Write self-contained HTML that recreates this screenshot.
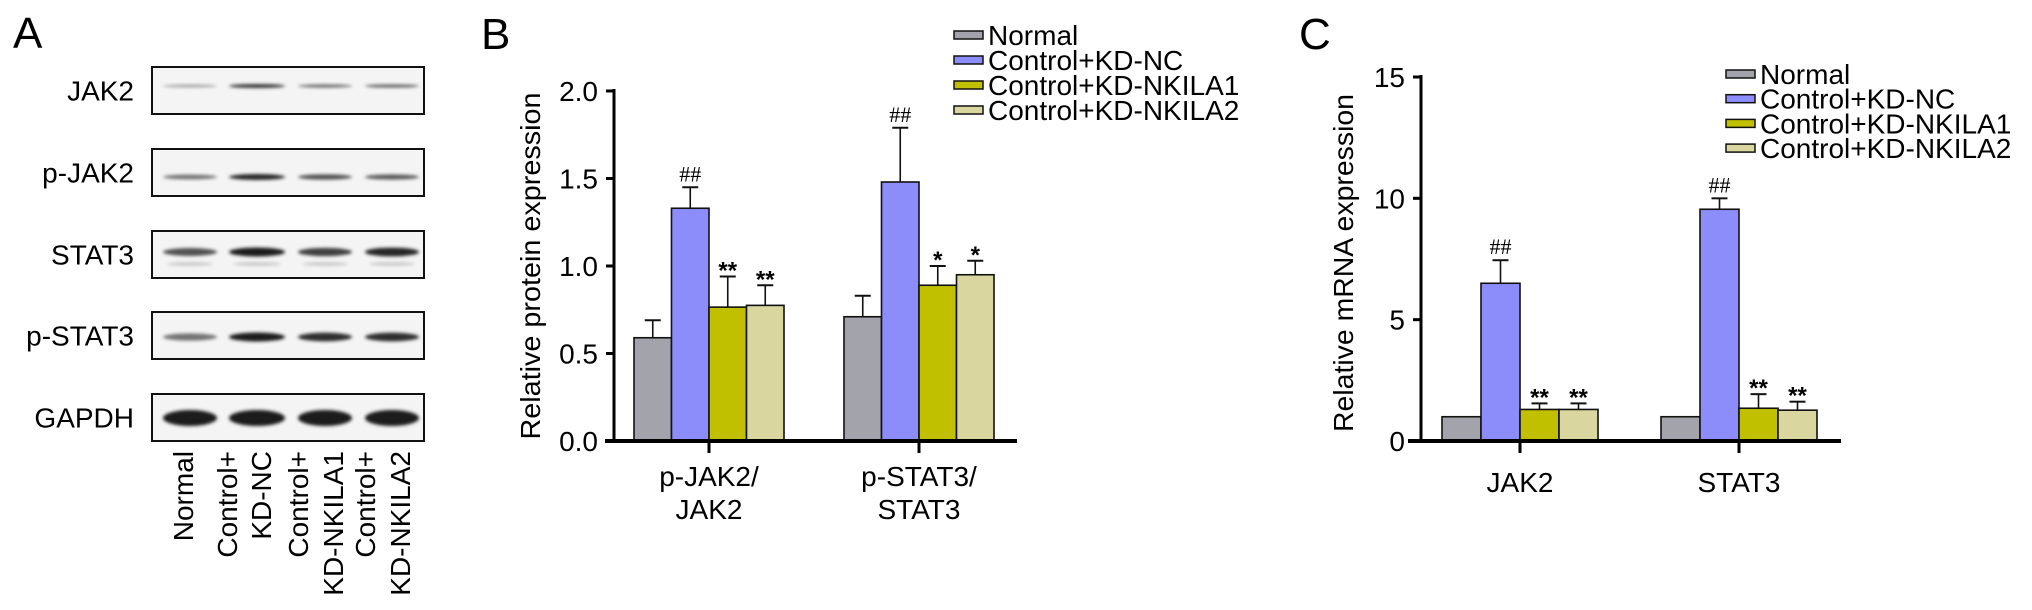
<!DOCTYPE html>
<html><head><meta charset="utf-8"><style>
html,body{margin:0;padding:0;background:#fff;}
svg{display:block;font-family:"Liberation Sans",Arial,sans-serif;}
</style></head><body>
<svg id="fig" width="2032" height="610" viewBox="0 0 2032 610">
<defs><filter id="blur" x="-20%" y="-100%" width="140%" height="300%"><feGaussianBlur stdDeviation="1.6"/></filter></defs>
<g id="panelA">
<text x="13" y="48" font-size="44">A</text>
</g>
<g id="panelB">
<text x="481" y="49" font-size="44">B</text>
</g>
<g id="panelC">
<text x="1299" y="49" font-size="44">C</text>
</g>
</svg>
<script>
const NS='http://www.w3.org/2000/svg';
const seriesNames=['Normal','Control+KD-NC','Control+KD-NKILA1','Control+KD-NKILA2'];
const seriesColors=['#a3a3ab','#8c8cfa','#c0c000','#d9d79f'];
const bCategories=[['p-JAK2/','JAK2'],['p-STAT3/','STAT3']];
const bMeans=[[0.59,1.33,0.765,0.775],[0.71,1.48,0.89,0.95]];
const bErrTop=[[0.69,1.45,0.94,0.89],[0.83,1.79,1.0,1.03]];
const bMarks=[['','##','**','**'],['','##','*','*']];
const bTicks=[0,0.5,1.0,1.5,2.0];
const bTickLabels=['0.0','0.5','1.0','1.5','2.0'];
const cCategories=[['JAK2'],['STAT3']];
const cMeans=[[1,6.5,1.3,1.3],[1,9.55,1.35,1.27]];
const cErrTop=[[1,7.45,1.55,1.55],[1,10.0,1.93,1.62]];
const cMarks=[['','##','**','**'],['','##','**','**']];
const cTicks=[0,5,10,15];
const cTickLabels=['0','5','10','15'];
const blotRows=['JAK2','p-JAK2','STAT3','p-STAT3','GAPDH'];
const blotIntensity=[[0.25,0.9,0.55,0.6],[0.5,0.95,0.7,0.65],[0.7,1,0.8,0.95],[0.5,1,0.9,0.9],[1,1,1,1]];
const laneLabels=[['Normal'],['Control+','KD-NC'],['Control+','KD-NKILA1'],['Control+','KD-NKILA2']];

function el(tag,attrs,parent,text){const e=document.createElementNS(NS,tag);for(const k in attrs)e.setAttribute(k,attrs[k]);if(text!==undefined)e.textContent=text;parent.appendChild(e);return e;}

// Panel A
(function(){
const g=document.getElementById('panelA');
const bx=152,bw=272,rowTop=[67,149,231,312,394],rh=47;
const bandY=[86,177,252,337,418],bandH=[4,6,9,9,16];
const laneC=[190,257,325,392],laneW=[54,56,54,54];
blotRows.forEach((name,r)=>{
 const rect=el('rect',{x:bx,y:rowTop[r],width:bw,height:rh,fill:'#f4f4f4',stroke:'#111','stroke-width':2},g);
 
 
 const lab=el('text',{x:134,y:rowTop[r]+rh/2+10,'font-size':28,'text-anchor':'end'},g,name);
 
 
 blotIntensity[r].forEach((v,l)=>{
  const c=Math.round(30+(1-v)*170);
  const b=el('ellipse',{cx:laneC[l],cy:bandY[r],rx:laneW[l]/2,ry:bandH[r]/2*(0.6+0.4*v),fill:'rgb('+c+','+c+','+c+')',filter:'url(#blur)'},g);
  
  
  if(name==='STAT3'){const b2=el('ellipse',{cx:laneC[l],cy:264,rx:laneW[l]/2-4,ry:2,fill:'#ccc',filter:'url(#blur)'},g);}
 });
});
const lx=[[193],[237,271],[308,343],[375,410]];
laneLabels.forEach((lines,i)=>{lines.forEach((t,j)=>{
 const x=lx[i][j];
 const tx=el('text',{x:x,y:451,'font-size':28,'text-anchor':'end',transform:'rotate(-90 '+x+' 451)'},g,t);
 
 
});});
})();

function drawChart(gid,o){
 const g=document.getElementById(gid);
 const y=v=>o.y0-(v-o.vmin)/(o.vmax-o.vmin)*(o.y0-o.y1);
 const ax=el('line',{x1:o.ax,y1:o.y1-2,x2:o.ax,y2:o.y0,stroke:'#000','stroke-width':3},g);
 
 
 o.ticks.forEach((t,i)=>{
  el('line',{x1:o.ax-8,y1:y(t),x2:o.ax,y2:y(t),stroke:'#000','stroke-width':3},g);
  const tl=el('text',{x:o.ax-16,y:y(t)+10,'font-size':28,'text-anchor':'end'},g,o.tickLabels[i]);
  
  
 });
 const tt=el('text',{x:o.titleX,y:o.titleY,'font-size':28,'text-anchor':'middle',transform:'rotate(-90 '+o.titleX+' '+o.titleY+')',textLength:o.titleLen,lengthAdjust:'spacingAndGlyphs'},g,o.title);
 
 
 o.means.forEach((grp,gi)=>{
  const cx=o.centers[gi];
  grp.forEach((v,si)=>{
   const x=cx+(si-2)*o.bw;
   const r=el('rect',{x:x,y:y(v),width:o.bw,height:o.y0-y(v),fill:seriesColors[si],stroke:'#111','stroke-width':1.6},g);
   
   
   const et=o.err[gi][si];
   if(et>v+0.001){
    const bc=x+o.bw/2;
    el('line',{x1:bc,y1:y(v),x2:bc,y2:y(et),stroke:'#111','stroke-width':1.6},g);
    el('line',{x1:bc-8,y1:y(et),x2:bc+8,y2:y(et),stroke:'#111','stroke-width':2},g);
   }
   const m=o.marks[gi][si];
   if(m){
    const isHash=m[0]==='#';
    const mt=el('text',{x:x+o.bw/2,y:y(et)-(isHash?6:-2),'font-size':isHash?22:24,'font-weight':isHash?'normal':'bold','font-family':isHash?'Liberation Serif, serif':'Liberation Sans, sans-serif','text-anchor':'middle'},g,m);
    
    
   }
  });
  el('line',{x1:cx,y1:o.y0,x2:cx,y2:o.y0+12,stroke:'#000','stroke-width':3},g);
  o.cats[gi].forEach((t,li)=>{
   const ct=el('text',{x:cx,y:o.catY+li*33,'font-size':28,'text-anchor':'middle'},g,t);
   
   
  });
 });
 const base=el('line',{x1:o.bx0,y1:o.y0,x2:o.bx1,y2:o.y0,stroke:'#000','stroke-width':4},g);
 
 
 seriesNames.forEach((n,i)=>{
  const ly=o.legY+i*o.legDy;
  const sw=el('rect',{x:o.legX,y:ly-14,width:29,height:8,fill:seriesColors[i],stroke:'#111','stroke-width':1.5},g);
  
  
  const lt=el('text',{x:o.legX+34,y:ly,'font-size':28},g,n);
  
  
 });
}
drawChart('panelB',{vmin:0,vmax:2,y0:441,y1:91,ax:614,bx0:605,bx1:1017,ticks:bTicks,tickLabels:bTickLabels,
 means:bMeans,err:bErrTop,marks:bMarks,centers:[709,919],bw:37.5,cats:bCategories,catY:486,
 title:'Relative protein expression',titleX:540,titleY:266,titleLen:347,legX:954,legY:45,legDy:25});
drawChart('panelC',{vmin:0,vmax:15,y0:441,y1:77,ax:1421,bx0:1408,bx1:1841,ticks:cTicks,tickLabels:cTickLabels,
 means:cMeans,err:cErrTop,marks:cMarks,centers:[1520,1739],bw:39,cats:cCategories,catY:492,
 title:'Relative mRNA expression',titleX:1353,titleY:263,titleLen:338,legX:1726,legY:84,legDy:24.7});
</script>
</body></html>
